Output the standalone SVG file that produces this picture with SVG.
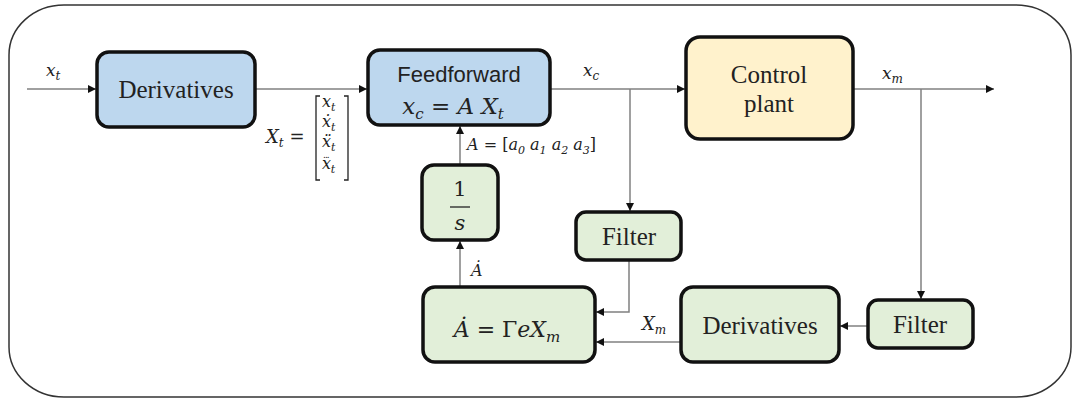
<svg xmlns="http://www.w3.org/2000/svg" width="1073" height="400" viewBox="0 0 1073 400">
<defs>
<marker id="ah" viewBox="0 0 10 10" refX="10" refY="5" markerWidth="8" markerHeight="8" markerUnits="userSpaceOnUse" orient="auto">
<path d="M0,0 L10,5 L0,10 z" fill="#111"/>
</marker>
<style>
.box{stroke:#111;stroke-width:3.5}
.blue{fill:#bdd7ee}
.yel{fill:#fff2cc}
.grn{fill:#e2efd9}
.lbl{font-family:"Liberation Serif",serif;font-size:25px;fill:#222;text-anchor:middle}
.sans{font-family:"Liberation Sans",sans-serif;font-size:22px;fill:#222;text-anchor:middle}
.m{font-family:"DejaVu Serif","Liberation Serif",serif;font-style:italic;fill:#222}
.n{font-style:normal}
.c{fill:none;stroke:#808080;stroke-width:1.5}
</style>
</defs>
<rect x="9" y="5" width="1062" height="392" rx="55" ry="50" fill="#fff" stroke="#333" stroke-width="1.5"/>

<g id="connectors">
<path class="c" d="M27,89 H96" marker-end="url(#ah)"/>
<path class="c" d="M255,89 H367" marker-end="url(#ah)"/>
<path class="c" d="M550,89 H685" marker-end="url(#ah)"/>
<path class="c" d="M630,89 V211" marker-end="url(#ah)"/>
<path class="c" d="M853,89 H994" marker-end="url(#ah)"/>
<path class="c" d="M921,89 V299" marker-end="url(#ah)"/>
<path class="c" d="M460,165 V126" marker-end="url(#ah)"/>
<path class="c" d="M460,287 V241" marker-end="url(#ah)"/>
<path class="c" d="M629,260 V312 H596" marker-end="url(#ah)"/>
<path class="c" d="M681,342 H596" marker-end="url(#ah)"/>
<path class="c" d="M868,326 H840" marker-end="url(#ah)"/>
</g>

<g id="labels">
<text class="m" x="46" y="76" font-size="17">x<tspan font-size="12" dy="4">t</tspan></text>
<text class="m" x="583" y="76" font-size="17">x<tspan font-size="12" dy="4">c</tspan></text>
<text class="m" x="882" y="79" font-size="17">x<tspan font-size="12" dy="4">m</tspan></text>
<text class="m" x="467" y="150" font-size="16">A<tspan class="n"> = [</tspan>a<tspan font-size="11" dy="4">0</tspan><tspan dy="-4"> a</tspan><tspan font-size="11" dy="4">1</tspan><tspan dy="-4"> a</tspan><tspan font-size="11" dy="4">2</tspan><tspan dy="-4"> a</tspan><tspan font-size="11" dy="4">3</tspan><tspan class="n" dy="-4">]</tspan></text>
<text class="m" x="471" y="276" font-size="16">A&#x307;</text>
<text class="m" x="642" y="330" font-size="18">X<tspan font-size="12" dy="4">m</tspan></text>
<text class="m" x="266" y="143" font-size="18">X<tspan font-size="12" dy="4">t</tspan><tspan class="n" dy="-4"> =</tspan></text>
<path d="M320,96 h-4 v84 h4 M344,96 h4 v84 h-4" fill="none" stroke="#222" stroke-width="1.3"/>
<text class="m" x="322" y="107" font-size="16">x<tspan font-size="11" dy="4">t</tspan></text>
<text class="m" x="322" y="127" font-size="16">x&#x307;<tspan font-size="11" dy="4">t</tspan></text>
<text class="m" x="322" y="147" font-size="16">x&#x308;<tspan font-size="11" dy="4">t</tspan></text>
<text class="m" x="322" y="169" font-size="16">x<tspan class="n" font-size="9" letter-spacing="-1" dx="-8" dy="-11">...</tspan><tspan font-size="11" dx="2" dy="15">t</tspan></text>
</g>

<g id="derivatives1">
<rect class="box blue" x="97" y="52" width="158" height="75" rx="12"/>
<text class="lbl" x="176" y="98">Derivatives</text>
</g>

<g id="feedforward">
<rect class="box blue" x="368" y="50" width="182" height="75" rx="12"/>
<text class="sans" x="459" y="82">Feedforward</text>
<text class="m" x="453" y="114" font-size="23" text-anchor="middle">x<tspan font-size="15" dy="5">c</tspan><tspan class="n" dy="-5"> = </tspan>A X<tspan font-size="15" dy="5">t</tspan></text>
</g>

<g id="plant">
<rect class="box yel" x="686" y="37" width="167" height="102" rx="14"/>
<text class="lbl" x="769" y="83">Control</text>
<text class="lbl" x="769" y="112">plant</text>
</g>

<g id="integrator">
<rect class="box grn" x="422" y="165" width="76" height="75" rx="12"/>
<text class="m n" x="460" y="196" font-size="21" text-anchor="middle">1</text>
<line x1="450" y1="207" x2="470" y2="207" stroke="#222" stroke-width="1.3"/>
<text class="m" x="460" y="230" font-size="21" text-anchor="middle">s</text>
</g>

<g id="filter1">
<rect class="box grn" x="576" y="212" width="105" height="48" rx="10"/>
<text class="lbl" x="629" y="245">Filter</text>
</g>

<g id="adaptation">
<rect class="box grn" x="423" y="287" width="172" height="75" rx="12"/>
<text class="m" x="507" y="337" font-size="22" text-anchor="middle">A&#x307;<tspan class="n"> = Γ</tspan>eX<tspan font-size="15" dy="5">m</tspan></text>
</g>

<g id="derivatives2">
<rect class="box grn" x="681" y="287" width="158" height="75" rx="12"/>
<text class="lbl" x="760" y="334">Derivatives</text>
</g>

<g id="filter2">
<rect class="box grn" x="868" y="300" width="105" height="48" rx="10"/>
<text class="lbl" x="920" y="333">Filter</text>
</g>
</svg>
